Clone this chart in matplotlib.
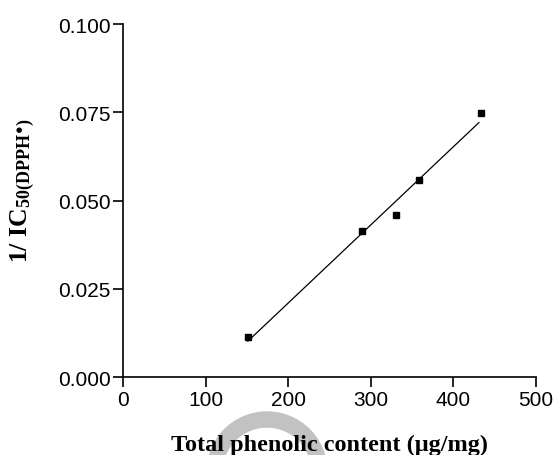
import numpy as np
import matplotlib
matplotlib.use("Agg")
import matplotlib.pyplot as plt
from matplotlib.patches import Wedge

# data
phenolic = [151, 289, 331, 358, 433]        # ug/mg
inv_ic50 = [0.0113, 0.0414, 0.0460, 0.0557, 0.0749]

x_ticks = [0, 100, 200, 300, 400, 500]
y_ticks = [0.000, 0.025, 0.050, 0.075, 0.100]

plt.rcParams["font.family"] = ["Liberation Sans", "DejaVu Sans"]
plt.rcParams["mathtext.fontset"] = "custom"
plt.rcParams["mathtext.rm"] = "Liberation Serif:bold"
plt.rcParams["mathtext.bf"] = "Liberation Serif:bold"
plt.rcParams["mathtext.it"] = "Liberation Serif:bold"

fig = plt.figure(figsize=(5.56, 4.56), dpi=100)
ax = fig.add_axes([0.2218, 0.171, 0.742, 0.774])

# faint watermark arc behind the x label
arc = Wedge((2.67, -0.17), 0.60, 0, 180, width=0.15,
            transform=fig.dpi_scale_trans, color="#c2c2c2", zorder=-5)
fig.patches.append(arc)

# linear regression line over the data range
slope, icpt = np.polyfit(phenolic, inv_ic50, 1)
xs = np.array([min(phenolic), max(phenolic) - 2])
ax.plot(xs, slope * xs + icpt, color="black", lw=0.9, zorder=2)
ax.plot(phenolic, inv_ic50, "s", color="black", ms=5, zorder=3)

ax.set_xlim(0, 500)
ax.set_ylim(0, 0.1)
ax.set_xticks(x_ticks)
ax.set_yticks(y_ticks)
ax.set_yticklabels([f"{v:.3f}" for v in y_ticks])

for side in ["top", "right"]:
    ax.spines[side].set_visible(False)
for side in ["left", "bottom"]:
    ax.spines[side].set_linewidth(1.2)
ax.tick_params(direction="out", length=7, width=1.2, labelsize=15, pad=2)

ax.set_xlabel("Total phenolic content (\u03bcg/mg)", family="Liberation Serif",
              fontweight="bold", fontsize=17.5, labelpad=18)
ax.set_ylabel("1/ IC$_{50(DPPH^{\u25cf})}$", family="Liberation Serif",
              fontweight="bold", fontsize=18.5)
ax.yaxis.set_label_coords(-0.21, 0.53)

fig.savefig("out.png", dpi=100)
